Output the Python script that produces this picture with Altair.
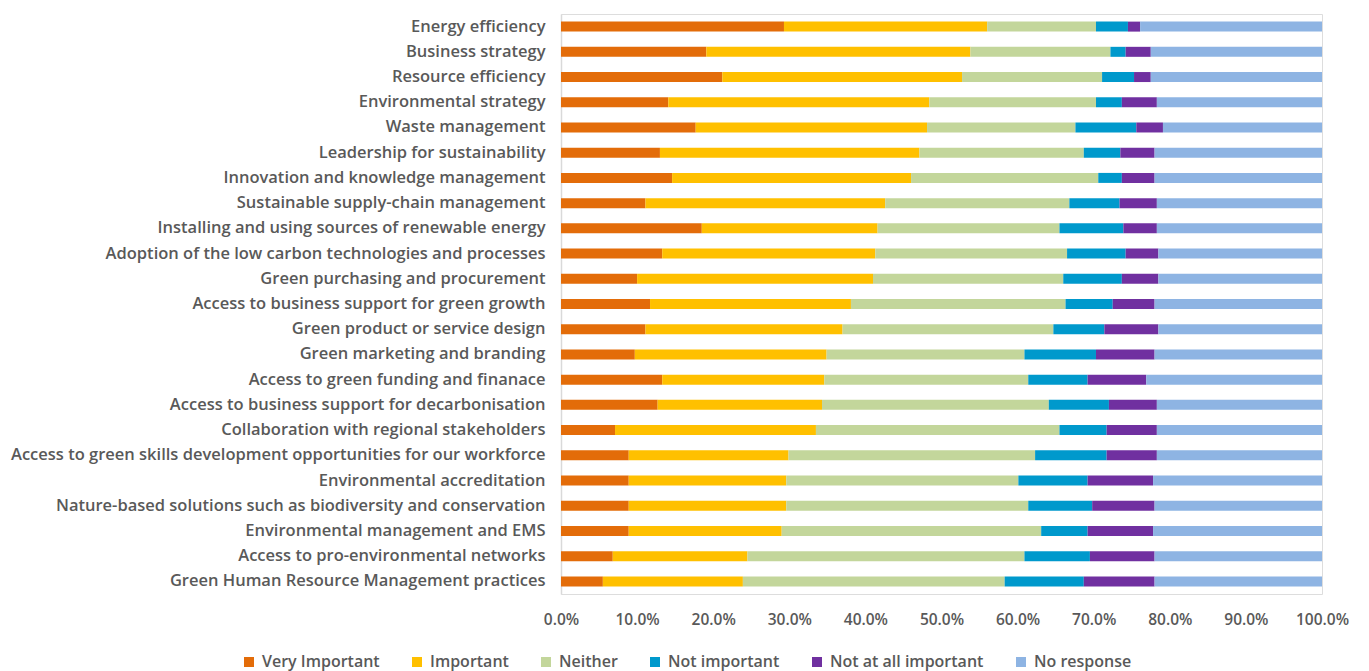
import altair as alt
import pandas as pd

categories = [
    "Energy efficiency",
    "Business strategy ",
    "Resource efficiency",
    "Environmental strategy",
    "Waste management",
    "Leadership for sustainability",
    "Innovation and knowledge management ",
    "Sustainable supply-chain management",
    "Installing and using sources of renewable energy",
    "Adoption of the low carbon technologies and processes",
    "Green purchasing and procurement",
    "Access to business support for green growth ",
    "Green product or service design ",
    "Green marketing and branding",
    "Access to green funding and finanace ",
    "Access to business support for decarbonisation ",
    "Collaboration with regional stakeholders ",
    "Access to green skills development opportunities for our workforce",
    "Environmental accreditation",
    "Nature-based solutions such as biodiversity and conservation",
    "Environmental management and EMS",
    "Access to pro-environmental networks",
    "Green Human Resource Management practices",
]

series = ["Very Important", "Important", "Neither", "Not important",
          "Not at all important", "No response"]
colors = ["#E36C09", "#FFC000", "#C3D69B", "#0099CC", "#7030A0", "#8EB4E3"]

very_important = [29.3, 19.1, 21.2, 14.1, 17.7, 13.0, 14.6, 11.1, 18.5, 13.3, 10.0, 11.7,
                  11.1, 9.7, 13.3, 12.7, 7.1, 8.9, 8.9, 8.9, 8.9, 6.8, 5.5]
important = [26.7, 34.7, 31.5, 34.3, 30.4, 34.1, 31.4, 31.5, 23.1, 28.0, 31.0, 26.4,
             25.9, 25.2, 21.3, 21.6, 26.4, 21.0, 20.7, 20.7, 20.1, 17.7, 18.4]
neither = [14.3, 18.4, 18.4, 21.9, 19.5, 21.6, 24.6, 24.2, 23.9, 25.2, 25.0, 28.2,
           27.7, 26.0, 26.8, 29.8, 32.0, 32.4, 30.5, 31.8, 34.1, 36.4, 34.4]
not_important = [4.2, 2.0, 4.2, 3.4, 8.0, 4.8, 3.1, 6.6, 8.4, 7.7, 7.7, 6.2,
                 6.7, 9.4, 7.8, 7.9, 6.2, 9.4, 9.1, 8.4, 6.1, 8.6, 10.4]
not_at_all = [1.6, 3.3, 2.2, 4.6, 3.5, 4.5, 4.3, 4.9, 4.4, 4.3, 4.8, 5.5,
              7.1, 7.7, 7.7, 6.3, 6.6, 6.6, 8.6, 8.2, 8.6, 8.5, 9.3]
no_response = [23.9, 22.5, 22.5, 21.7, 20.9, 22.0, 22.0, 21.7, 21.7, 21.5, 21.5, 22.0,
               21.5, 22.0, 23.1, 21.7, 21.7, 21.7, 22.2, 22.0, 22.2, 22.0, 22.0]

all_values = [very_important, important, neither, not_important, not_at_all, no_response]

rows = []
for si, (name, vals) in enumerate(zip(series, all_values)):
    for cat, v in zip(categories, vals):
        rows.append({"Category": cat, "Series": name, "Value": v / 100.0, "order": si})
df = pd.DataFrame(rows)

FONT = "Open Sans"
TXT = "#595959"

chart = alt.Chart(df).mark_bar(size=10).encode(
    y=alt.Y("Category:N", sort=categories, title=None,
            scale=alt.Scale(paddingInner=0.6, paddingOuter=0.3),
            axis=alt.Axis(labelLimit=700, labelFontSize=16.5, labelColor=TXT,
                          labelFont=FONT, labelFontWeight=600, labelPadding=16,
                          ticks=False, domainColor="#D9D9D9", domainWidth=1.5)),
    x=alt.X("Value:Q", stack="zero", title=None,
            scale=alt.Scale(domain=[0, 1], nice=False),
            axis=alt.Axis(format=".1%", values=[i / 10 for i in range(11)],
                          grid=False, domain=False, ticks=False, labelFlush=False,
                          labelFontSize=15.5, labelColor=TXT, labelFont=FONT,
                          labelFontWeight=600, labelPadding=18)),
    color=alt.Color("Series:N", sort=series,
                    scale=alt.Scale(domain=series, range=colors),
                    legend=alt.Legend(title=None, orient="none", direction="horizontal",
                                      legendX=-320, legendY=640, columns=6,
                                      symbolType="square", symbolSize=100,
                                      symbolStrokeWidth=0,
                                      labelFontSize=16, labelFont=FONT,
                                      labelFontWeight=600,
                                      labelColor=TXT, columnPadding=29,
                                      labelOffset=5)),
    order=alt.Order("order:Q"),
).properties(
    width=761, height=580,
    autosize=alt.AutoSizeParams(type="none"),
    padding={"left": 561, "top": 14, "right": 47, "bottom": 77},
).configure_view(stroke=None).configure(background="white")

chart.save("out.html", embed_options={"renderer": "svg", "actions": False})
